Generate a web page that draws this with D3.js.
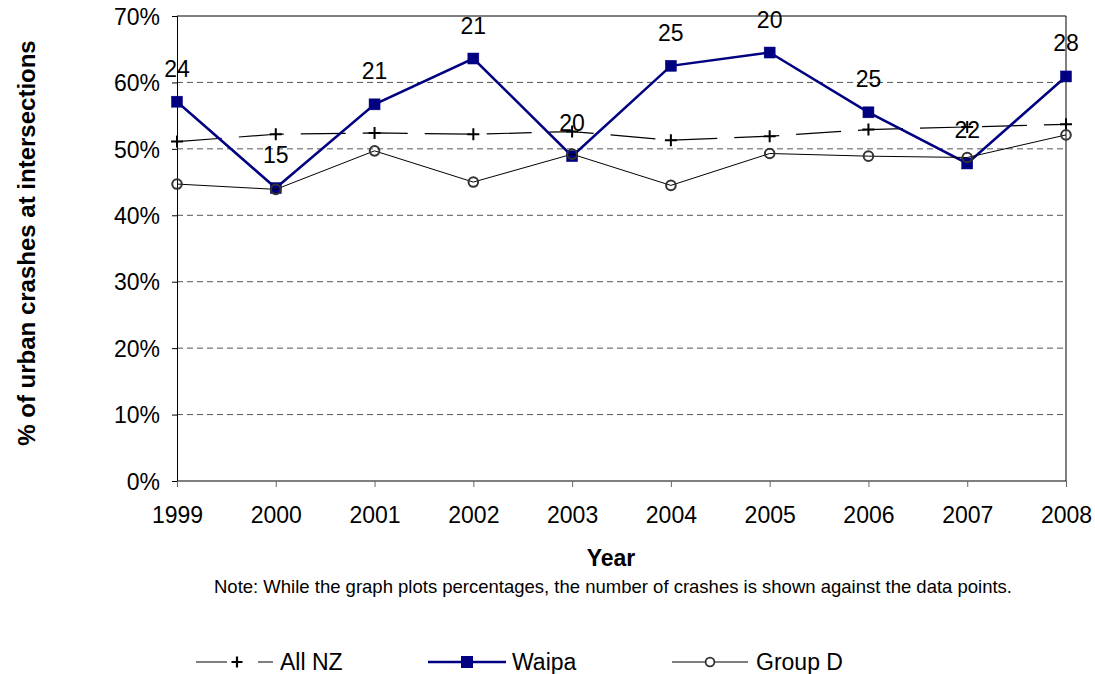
<!DOCTYPE html>
<html>
<head>
<meta charset="utf-8">
<script src="https://cdn.jsdelivr.net/npm/d3@7/dist/d3.min.js"></script>
<style>
  html, body { margin: 0; padding: 0; background: #fff; }
  svg { display: block; font-family: Arial, "Liberation Sans", sans-serif; }
</style>
</head>
<body>
<svg id="chart" width="1095" height="674"></svg>
<script>
// Share of urban crashes occurring at intersections, 1999–2008
const years = [1999, 2000, 2001, 2002, 2003, 2004, 2005, 2006, 2007, 2008];
const allNZ  = [51.1, 52.2, 52.4, 52.2, 52.6, 51.3, 51.9, 52.9, 53.3, 53.7];
const waipa  = [57.1, 44.1, 56.7, 63.6, 48.9, 62.5, 64.5, 55.5, 47.8, 60.9];
const groupD = [44.7, 43.9, 49.7, 45.0, 49.2, 44.5, 49.3, 48.9, 48.7, 52.1];
// Number of Waipa crashes behind each percentage
const waipaCounts = [24, 15, 21, 21, 20, 25, 20, 25, 22, 28];
const yTicks = [0, 10, 20, 30, 40, 50, 60, 70];

const svg = d3.select("#chart");
const m = { left: 177, top: 16, right: 1066, bottom: 481 };
const FS = 23;

const x = d3.scalePoint().domain(years).range([m.left, m.right]);
const y = d3.scaleLinear().domain([0, 70]).range([m.bottom, m.top]);

// gridlines
svg.append("g").selectAll("line")
  .data(yTicks.filter(t => t > 0 && t < 70))
  .join("line")
  .attr("x1", m.left).attr("x2", m.right)
  .attr("y1", d => y(d)).attr("y2", d => y(d))
  .attr("stroke", "#555").attr("stroke-width", 1)
  .attr("stroke-dasharray", "6,4");

// plot frame (top and right)
svg.append("path")
  .attr("d", `M${m.left},${m.top}H${m.right}V${m.bottom}`)
  .attr("fill", "none").attr("stroke", "#000").attr("stroke-width", 1);

// y axis
const yAxis = svg.append("g")
  .attr("transform", `translate(${m.left},0)`)
  .call(d3.axisLeft(y).tickValues(yTicks).tickFormat(d => d + "%").tickSize(5).tickPadding(12));
yAxis.select(".domain").attr("stroke", "#000");
yAxis.selectAll(".tick line").attr("stroke", "#000");
yAxis.selectAll("text").attr("font-size", FS).attr("fill", "#000")
  .attr("font-family", "Arial, 'Liberation Sans', sans-serif").attr("dy", "0.36em");

// x axis
const xAxis = svg.append("g")
  .attr("transform", `translate(0,${m.bottom})`)
  .call(d3.axisBottom(x).tickSize(6).tickPadding(20).tickFormat(d3.format("d")));
xAxis.select(".domain").attr("stroke", "#000").attr("d", `M${m.left},0H${m.right}`);
xAxis.selectAll(".tick line").attr("stroke", "#666");
xAxis.selectAll("text").attr("font-size", FS).attr("fill", "#000")
  .attr("font-family", "Arial, 'Liberation Sans', sans-serif");

const line = d3.line().x((d, i) => x(years[i])).y(d => y(d));

// All NZ: long-dash line with plus markers
svg.append("path").datum(allNZ)
  .attr("d", line).attr("fill", "none")
  .attr("stroke", "#000").attr("stroke-width", 1.2)
  .attr("stroke-dasharray", "45,17");
const plusPath = s => `M${-s},0H${s}M0,${-s}V${s}`;
svg.append("g").selectAll("path").data(allNZ).join("path")
  .attr("transform", (d, i) => `translate(${x(years[i])},${y(d)})`)
  .attr("d", plusPath(6)).attr("stroke", "#000").attr("stroke-width", 2).attr("fill", "none");

// Waipa: navy line with square markers
svg.append("path").datum(waipa)
  .attr("d", line).attr("fill", "none")
  .attr("stroke", "#000080").attr("stroke-width", 2.5);
svg.append("g").selectAll("rect").data(waipa).join("rect")
  .attr("x", (d, i) => x(years[i]) - 5.5).attr("y", d => y(d) - 5.5)
  .attr("width", 11).attr("height", 11)
  .attr("fill", "#000080").attr("stroke", "#000080").attr("stroke-width", 0.5);

// Group D: thin line with open circles
svg.append("path").datum(groupD)
  .attr("d", line).attr("fill", "none")
  .attr("stroke", "#000").attr("stroke-width", 1);
svg.append("g").selectAll("circle").data(groupD).join("circle")
  .attr("cx", (d, i) => x(years[i])).attr("cy", d => y(d)).attr("r", 4.8)
  .attr("fill", "none").attr("stroke", "#333").attr("stroke-width", 2);

// crash counts above Waipa points
svg.append("g").selectAll("text").data(waipa).join("text")
  .attr("x", (d, i) => x(years[i])).attr("y", d => y(d) - 25)
  .attr("text-anchor", "middle").attr("font-size", FS).attr("fill", "#000")
  .text((d, i) => waipaCounts[i]);

// axis titles
svg.append("text")
  .attr("transform", `translate(35,243) rotate(-90)`)
  .attr("text-anchor", "middle").attr("font-size", 24).attr("font-weight", "bold")
  .text("% of urban crashes at intersections");
svg.append("text")
  .attr("x", 611).attr("y", 566).attr("text-anchor", "middle")
  .attr("font-size", FS).attr("font-weight", "bold").text("Year");
svg.append("text")
  .attr("x", 613).attr("y", 593).attr("text-anchor", "middle")
  .attr("font-size", 18.5).text("Note: While the graph plots percentages, the number of crashes is shown against the data points.");

// legend
const ly = 662;
const lg = svg.append("g");
lg.append("path").attr("d", `M196,${ly}H227M258,${ly}H273`).attr("stroke", "#000").attr("stroke-width", 1.2);
lg.append("path").attr("transform", `translate(237,${ly})`).attr("d", plusPath(5.5))
  .attr("stroke", "#000").attr("stroke-width", 2.2);
lg.append("text").attr("x", 280).attr("y", ly + 8).attr("font-size", FS).text("All NZ");

lg.append("line").attr("x1", 428).attr("x2", 506).attr("y1", ly).attr("y2", ly)
  .attr("stroke", "#000080").attr("stroke-width", 2.5);
lg.append("rect").attr("x", 461).attr("y", ly - 6).attr("width", 12).attr("height", 12).attr("fill", "#000080");
lg.append("text").attr("x", 512).attr("y", ly + 8).attr("font-size", FS).text("Waipa");

lg.append("line").attr("x1", 672).attr("x2", 748).attr("y1", ly).attr("y2", ly)
  .attr("stroke", "#000").attr("stroke-width", 1);
lg.append("circle").attr("cx", 710).attr("cy", ly).attr("r", 4.4)
  .attr("fill", "#fff").attr("stroke", "#333").attr("stroke-width", 1.8);
lg.append("text").attr("x", 756).attr("y", ly + 8).attr("font-size", FS).text("Group D");
</script>
</body>
</html>
